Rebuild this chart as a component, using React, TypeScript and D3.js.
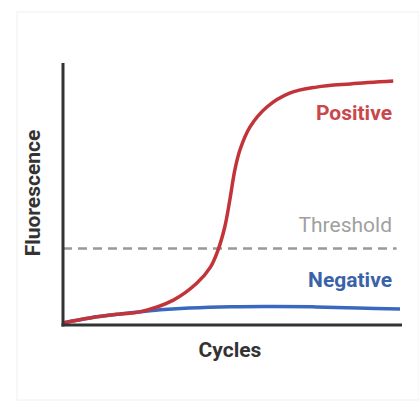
import React from "react";
import * as d3 from "d3";

const cycles = [0, 3.2, 6.8, 9.1, 13.1, 15.9, 17.5, 18.4, 19.2, 19.8, 20.4, 21, 22.2, 24.2, 26.9, 30.1, 34.1, 39.2];
const positive = [0.8, 2.7, 4.2, 5.0, 9.5, 16.0, 22.1, 28.6, 37.4, 47.7, 59.2, 66.8, 75.6, 83.2, 88.5, 90.8, 92, 93.1];
const negCycles = [0, 3.2, 6.8, 9.1, 12, 15, 20, 25, 30, 35, 40];
const negative = [0.8, 2.7, 4.2, 5.0, 5.9, 6.5, 7.0, 7.1, 6.9, 6.5, 6.1];
const threshold = 29.2;

const W = 419;
const H = 408;
const m = { left: 63, right: 19, top: 63, bottom: 83 };

export default function App() {
  const x = d3.scaleLinear().domain([0, 40]).range([m.left, W - m.right]);
  const y = d3.scaleLinear().domain([0, 100]).range([H - m.bottom, m.top]);

  const line = d3
    .line<[number, number]>()
    .x((d) => x(d[0]))
    .y((d) => y(d[1]))
    .curve(d3.curveCatmullRom.alpha(0.5));

  const posPath = line(cycles.map((c, i) => [c, positive[i]]));
  const negPath = line(negCycles.map((c, i) => [c, negative[i]]));

  const font = "Roboto, 'Noto Sans', sans-serif";

  return (
    <svg
      width={W}
      height={H}
      style={{ position: "absolute", left: 0, top: 0, background: "#fff" }}
    >
      <rect x={17} y={12} width={W - 17} height={H - 20} fill="#fff" stroke="#f0f0f0" />
      {/* threshold */}
      <line
        x1={x(0)}
        x2={x(39.6)}
        y1={y(threshold)}
        y2={y(threshold)}
        stroke="#999"
        strokeWidth={2.5}
        strokeDasharray="9 6"
      />
      <path d={negPath ?? ""} fill="none" stroke="#3a68bf" strokeWidth={3.5} />
      <path d={posPath ?? ""} fill="none" stroke="#c2343a" strokeWidth={3.5} />
      {/* axes */}
      <line x1={x(0)} x2={x(0)} y1={m.top} y2={y(0) + 1.5} stroke="#333" strokeWidth={3} />
      <line x1={x(0) - 1.5} x2={x(40) + 2} y1={y(0)} y2={y(0)} stroke="#333" strokeWidth={3} />
      {/* labels */}
      <text x={392} y={120} textAnchor="end" fontFamily={font} fontWeight="bold" fontSize={21} fill="#c8484c">
        Positive
      </text>
      <text x={392} y={232} textAnchor="end" fontFamily={font} fontSize={21} fill="#a0a0a0">
        Threshold
      </text>
      <text x={392} y={287} textAnchor="end" fontFamily={font} fontWeight="bold" fontSize={21} fill="#3a62a8">
        Negative
      </text>
      <text x={230} y={357} textAnchor="middle" fontFamily={font} fontWeight="bold" fontSize={21} fill="#333">
        Cycles
      </text>
      <text
        transform={`translate(40,193) rotate(-90)`}
        textAnchor="middle"
        fontFamily={font}
        fontWeight="bold"
        fontSize={21}
        fill="#333"
      >
        Fluorescence
      </text>
    </svg>
  );
}
